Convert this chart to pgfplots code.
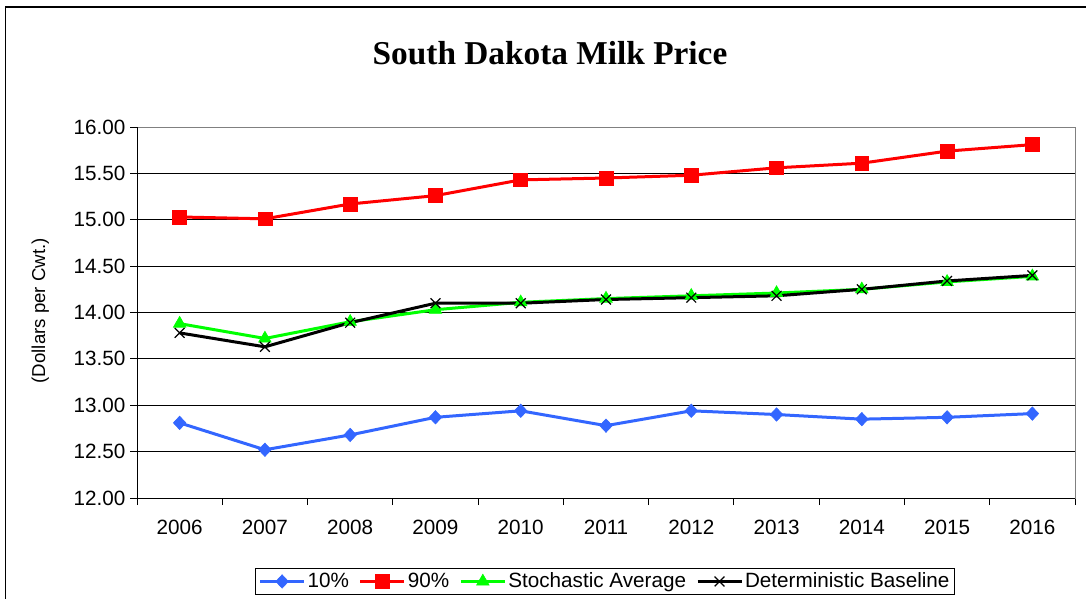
\documentclass[border=0pt]{standalone}
\usepackage{fontspec}
\setmainfont{Liberation Sans}
\newfontfamily\titlefont{Liberation Serif}
\usepackage{pgfplots}
\pgfplotsset{compat=1.18}
\definecolor{sblue}{RGB}{51,102,255}
\definecolor{sred}{RGB}{255,0,0}
\definecolor{sgreen}{RGB}{0,255,0}
\pgfplotsset{
  legend image code/.code={\draw[mark repeat=2,mark phase=2,#1] plot coordinates {(0pt,0pt) (16.5pt,0pt) (33pt,0pt)};}
}
\begin{document}
\begin{tikzpicture}
\useasboundingbox (0,0) rectangle (814.5pt,-449.25pt);
\draw[black, line width=1pt] (4.1pt,-470pt) -- (4.1pt,-5.25pt) -- (830pt,-5.25pt);
\node[anchor=base, font=\titlefont\bfseries\fontsize{25}{30}\selectfont] at (412.5pt,-48.75pt) {South Dakota Milk Price};
\begin{axis}[
  at={(102.75pt,-373.5pt)}, anchor=south west,
  scale only axis, width=703.5pt, height=278.25pt,
  xmin=-0.5, xmax=10.5, ymin=12, ymax=16,
  xtick={-0.5,0.5,1.5,2.5,3.5,4.5,5.5,6.5,7.5,8.5,9.5,10.5},
  x tick label as interval,
  xticklabels={2006,2007,2008,2009,2010,2011,2012,2013,2014,2015,2016},
  ytick={12,12.5,13,13.5,14,14.5,15,15.5,16},
  xtick pos=bottom, ytick pos=left,
  tick align=outside, major tick length=5.25pt,
  tick style={black, line width=0.75pt},
  ymajorgrids, major grid style={black, line width=0.75pt},
  axis line style={draw=gray, line width=0.75pt},
  yticklabel style={/pgf/number format/.cd, fixed, fixed zerofill, precision=2},
  xticklabel style={yshift=-8pt},
  /pgf/number format/assume math mode=true,
  tick label style={font=\fontsize{15.5}{18}\selectfont},
  ylabel={(Dollars per Cwt.)},
  ylabel style={font=\fontsize{14}{16}\selectfont, at={(axis description cs:-0.103,0.505)}, anchor=center},
  legend columns=4,
  legend style={at={(0.499,-0.225)}, anchor=center, draw=black, line width=0.75pt,
    font=\fontsize{15.5}{18}\selectfont, inner sep=2pt,
    /tikz/every even column/.append style={column sep=6pt},
    nodes={inner sep=1.5pt}},
  clip=false,
  after end axis/.code={\draw[black,line width=0.75pt] (rel axis cs:0,1) -- (rel axis cs:0,0) -- (rel axis cs:1,0);}
]
\addplot[sblue, line width=2.25pt, mark=diamond*, mark size=5pt, mark options={solid, fill=sblue, line width=0.5pt, xscale=1.25}]
  coordinates {(0,12.81) (1,12.52) (2,12.68) (3,12.87) (4,12.94) (5,12.78) (6,12.94) (7,12.90) (8,12.85) (9,12.87) (10,12.91)};
\addlegendentry{10\%}
\addplot[sred, line width=2.25pt, mark=square*, mark size=5.2pt, mark options={solid, fill=sred, line width=0.5pt}]
  coordinates {(0,15.03) (1,15.01) (2,15.17) (3,15.26) (4,15.43) (5,15.45) (6,15.48) (7,15.56) (8,15.61) (9,15.74) (10,15.81)};
\addlegendentry{90\%}
\addplot[sgreen, line width=2.25pt, mark=triangle*, mark size=5.4pt, mark options={solid, fill=sgreen, line width=0.5pt}]
  coordinates {(0,13.88) (1,13.72) (2,13.90) (3,14.03) (4,14.11) (5,14.15) (6,14.18) (7,14.21) (8,14.25) (9,14.33) (10,14.39)};
\addlegendentry{Stochastic Average}
\addplot[black, line width=2.25pt, mark=x, mark size=5.2pt, mark options={solid, line width=0.9pt}]
  coordinates {(0,13.78) (1,13.63) (2,13.89) (3,14.10) (4,14.10) (5,14.14) (6,14.16) (7,14.18) (8,14.25) (9,14.34) (10,14.40)};
\addlegendentry{Deterministic Baseline}
\end{axis}
\end{tikzpicture}
\end{document}
